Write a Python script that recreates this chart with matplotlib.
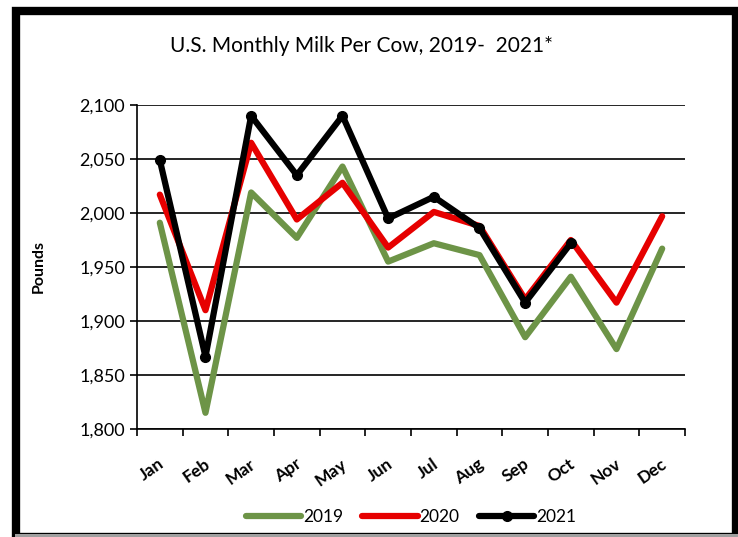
import matplotlib.pyplot as plt
import matplotlib.patches as patches
from matplotlib.transforms import ScaledTranslation
import numpy as np

# data
months = ['Jan', 'Feb', 'Mar', 'Apr', 'May', 'Jun', 'Jul', 'Aug', 'Sep', 'Oct', 'Nov', 'Dec']
milk2019 = [1991, 1815, 2019, 1977, 2043, 1955, 1972, 1961, 1885, 1941, 1874, 1967]
milk2020 = [2017, 1910, 2065, 1994, 2028, 1968, 2001, 1988, 1920, 1975, 1917, 1997]
milk2021 = [2049, 1867, 2090, 2035, 2090, 1995, 2015, 1986, 1917, 1972]
yTicks = [1800, 1850, 1900, 1950, 2000, 2050, 2100]

plt.rcParams['font.family'] = ['Lato', 'DejaVu Sans']

fig = plt.figure(figsize=(7.38, 5.37), dpi=100)
ax = fig.add_axes([0.1856, 0.2011, 0.7426, 0.6034])

# outer frame
fig.patches.append(patches.Rectangle((0.0217, 0.0), 0.975, 0.9795, transform=fig.transFigure,
                                     fill=False, edgecolor='black', linewidth=6))
fig.patches.append(patches.Rectangle((0.02, 0.0), 0.98, 0.005, transform=fig.transFigure,
                                     color='#a0a0a0', linewidth=0))

x = np.arange(len(months))
ax.plot(x, milk2019, color='#6d9447', linewidth=4.5, label='2019', solid_capstyle='round')
ax.plot(x, milk2020, color='#e60000', linewidth=4.5, label='2020', solid_capstyle='round')
ax.plot(x[:len(milk2021)], milk2021, color='black', linewidth=4.5, marker='o', markersize=7,
        label='2021', solid_capstyle='round')

ax.set_xlim(-0.5, 11.5)
ax.set_ylim(1800, 2100)
ax.set_yticks(yTicks)
ax.set_yticklabels([f'{v:,}' for v in yTicks], fontsize=13)
ax.yaxis.grid(True, color='black', linewidth=1.2)
ax.set_axisbelow(True)

# month labels in the middle, ticks on the boundaries
ax.set_xticks(x)
ax.set_xticklabels(months, rotation=35, fontsize=12.5, fontweight='bold', ha='right', va='center',
                   rotation_mode='anchor')
ax.tick_params(axis='x', which='major', length=0, pad=24)
shift = ScaledTranslation(2 / 72, 0, fig.dpi_scale_trans)
for lab in ax.get_xticklabels():
    lab.set_transform(lab.get_transform() + shift)
ax.set_xticks(np.arange(-0.5, 12, 1), minor=True)
ax.tick_params(axis='x', which='minor', length=5, width=1.2, direction='out')
ax.tick_params(axis='y', length=5, width=1.2, direction='out')

for s in ['top', 'right']:
    ax.spines[s].set_visible(False)
for s in ['left', 'bottom']:
    ax.spines[s].set_linewidth(1.2)

ax.set_ylabel('Pounds', fontsize=11.5, fontweight='bold', labelpad=24)
fig.text(0.49, 0.915, 'U.S. Monthly Milk Per Cow, 2019-  2021*', fontsize=15, ha='center', va='center')

ax.legend(loc='upper center', bbox_to_anchor=(0.5, -0.2), ncol=3, frameon=False, fontsize=12.5,
          handlelength=3.2, columnspacing=1.1, handletextpad=0.1)

fig.savefig('out.png', dpi=100)
